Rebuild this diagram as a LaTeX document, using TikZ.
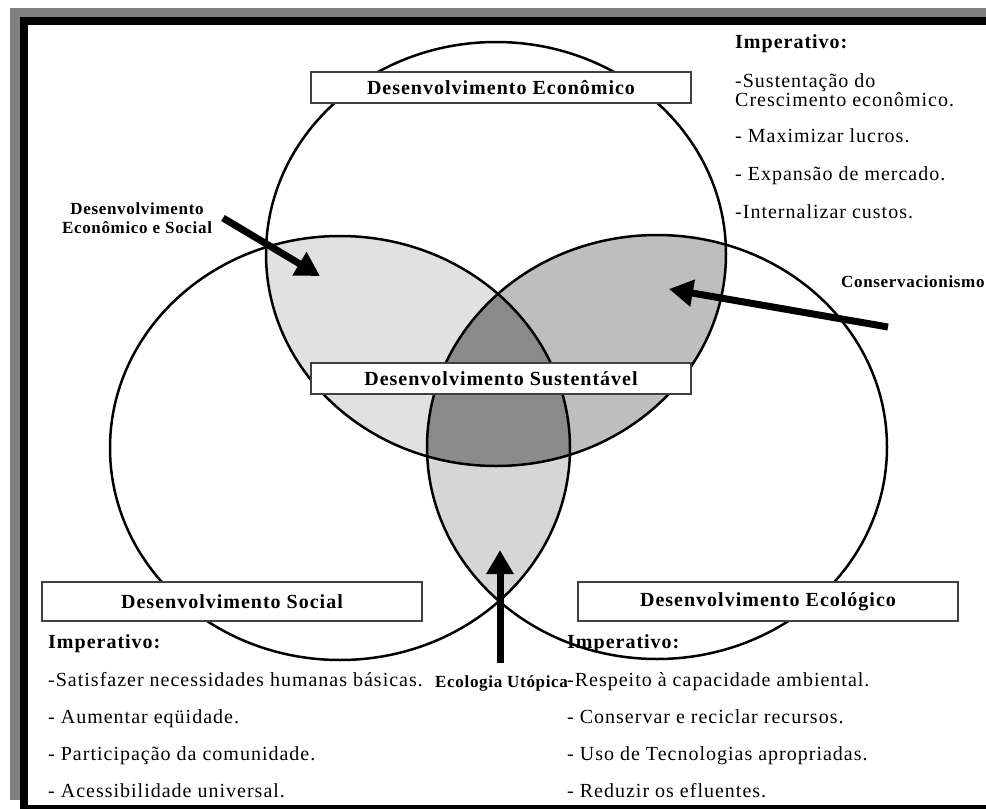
\documentclass[tikz,border=0pt]{standalone}
\usepackage{fontspec}
\setmainfont{Liberation Serif}
\newfontfamily\wideserif[LetterSpace=5]{Liberation Serif}
\newfontfamily\boxserif[LetterSpace=5]{Liberation Serif}
\newfontfamily\tagserif[LetterSpace=4]{Liberation Serif}
\usetikzlibrary{arrows.meta, positioning}
\definecolor{framegray}{HTML}{808080}
\definecolor{lensEcSo}{HTML}{E1E1E1}
\definecolor{lensEcEc}{HTML}{BEBEBE}
\definecolor{lensSoEc}{HTML}{D6D6D6}
\definecolor{lensAll}{HTML}{8A8A8A}

\begin{document}
\begin{tikzpicture}[x=1pt, y=-1pt,
		circ/.style={line width=2.5pt},
		boxlabel/.style={rectangle, draw=black!75, line width=1.2pt, fill=white, minimum width=380pt, minimum height=31pt, inner sep=0pt, font=\boxserif\bfseries\fontsize{20}{22}\selectfont},
		item/.style={anchor=base west, inner sep=0pt, font=\wideserif\fontsize{20}{22}\selectfont},
		title/.style={item, font=\wideserif\bfseries\fontsize{20}{22}\selectfont},
		tag/.style={inner sep=0pt, font=\tagserif\bfseries\fontsize{17}{19}\selectfont},
		bigarrow/.style={line width=7pt, -{Triangle[length=24pt, width=26pt]}}]
		\useasboundingbox (0,0) rectangle (986,809);
	
		\fill[framegray] (10,8) rectangle (986,800);
		\fill[black] (20,17) rectangle (986,809);
		\fill[white] (28,25) rectangle (986,805);
	
		\begin{scope}
			\clip (496,254) ellipse [x radius=230pt, y radius=212pt];
			\fill[lensEcSo] (340,448) ellipse [x radius=230pt, y radius=212pt];
			\fill[lensEcEc] (657,447) ellipse [x radius=230pt, y radius=212pt];
		\end{scope}
		\begin{scope}
			\clip (340,448) ellipse [x radius=230pt, y radius=212pt];
			\fill[lensSoEc] (657,447) ellipse [x radius=230pt, y radius=212pt];
		\end{scope}
		\begin{scope}
			\clip (496,254) ellipse [x radius=230pt, y radius=212pt];
			\clip (340,448) ellipse [x radius=230pt, y radius=212pt];
			\fill[lensAll] (657,447) ellipse [x radius=230pt, y radius=212pt];
		\end{scope}
		\draw[circ] (496,254) ellipse [x radius=230pt, y radius=212pt];
		\draw[circ] (340,448) ellipse [x radius=230pt, y radius=212pt];
		\draw[circ] (657,447) ellipse [x radius=230pt, y radius=212pt];
	
		\node[boxlabel] (economico) at (501,87.5) {Desenvolvimento Econômico};
		\node[boxlabel] (sustentavel) at (501,378.5) {Desenvolvimento Sustentável};
		\node[boxlabel, minimum height=39pt] (social) at (232,601.5) {Desenvolvimento Social};
		\node[boxlabel, minimum height=39pt] (ecologico) at (768,601.5) {Desenvolvimento Ecológico};
	
		\node[title] (impEco) at (735,48) {Imperativo:};
		\node[item] (eco1) at (735,87) {-Sustentação do};
		\node[item] (eco1b) at (735,106) {Crescimento econômico.};
		\node[item] (eco2) at (735,142) {- Maximizar lucros.};
		\node[item] (eco3) at (735,180) {- Expansão de mercado.};
		\node[item] (eco4) at (735,218) {-Internalizar custos.};
	
		\node[title] (impSoc) at (48,648) {Imperativo:};
		\foreach \txt [count=\i] in {{-Satisfazer necessidades humanas básicas.}, {- Aumentar eqüidade.}, {- Participação da comunidade.}, {- Acessibilidade universal.}}
			\node[item] (soc\i) at (48,{686+37*(\i-1)}) {\txt};
	
		\node[title] (impEcol) at (567,648) {Imperativo:};
		\foreach \txt [count=\i] in {{-Respeito à capacidade ambiental.}, {- Conservar e reciclar recursos.}, {- Uso de Tecnologias apropriadas.}, {- Reduzir os efluentes.}}
			\node[item] (ecol\i) at (567,{686+37*(\i-1)}) {\txt};
	
		\node[tag, align=center] (ecoSocLabel) at (137,218) {Desenvolvimento\\Econômico e Social};
		\node[tag, anchor=base west] (consLabel) at (841,287) {Conservacionismo};
		\node[tag, anchor=base west] (utopLabel) at (435,687) {Ecologia Utópica};
	
		\coordinate (ecoSocTail) at (223,218);
		\coordinate (ecoSocTip) at (320,276);
		\coordinate (consTail) at (888,327);
		\coordinate (consTip) at (669,289);
		\coordinate (utopTail) at (500,663);
		\coordinate (utopTip) at (500,550);
		\draw[bigarrow] (ecoSocTail) -- (ecoSocTip);
		\draw[bigarrow] (consTail) -- (consTip);
		\draw[bigarrow] (utopTail) -- (utopTip);
	\end{tikzpicture}
\end{document}
